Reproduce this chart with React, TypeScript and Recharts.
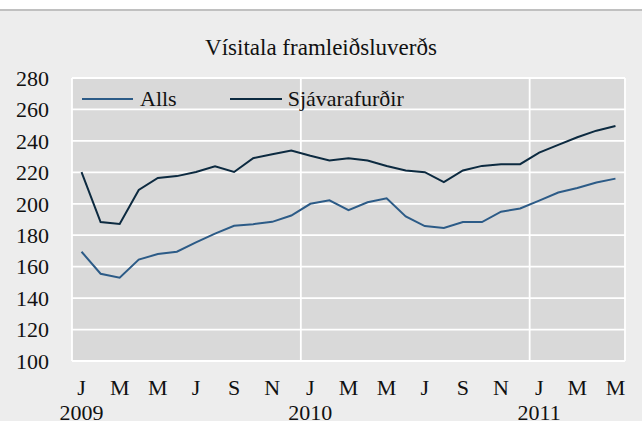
import React from 'react';
import { LineChart, Line, XAxis, YAxis, CartesianGrid } from 'recharts';

const categories = [
  '2009-01','2009-02','2009-03','2009-04','2009-05','2009-06','2009-07','2009-08','2009-09','2009-10','2009-11','2009-12',
  '2010-01','2010-02','2010-03','2010-04','2010-05','2010-06','2010-07','2010-08','2010-09','2010-10','2010-11','2010-12',
  '2011-01','2011-02','2011-03','2011-04','2011-05',
];
const alls = [169.5, 155.5, 153, 164.5, 168, 169.5, 175.5, 181, 186, 187, 188.5, 192.5, 200, 202.2, 196, 201, 203.5, 192, 185.8, 184.6, 188.4, 188.4, 195, 197, 202, 207.2, 210, 213.5, 216];
const sjavarafurdir = [220.2, 188.4, 187.2, 208.8, 216.4, 217.6, 220.2, 223.8, 220.2, 229, 231.5, 233.9, 230.5, 227.5, 229, 227.5, 224, 221.2, 220.1, 213.8, 221.2, 224.1, 225.2, 225.2, 232.6, 237.5, 242.3, 246.5, 249.5];
const monthLetters = ['J','F','M','A','M','J','J','A','S','O','N','D'];
const yTicks = [100, 120, 140, 160, 180, 200, 220, 240, 260, 280];
const seriesNames = { alls: 'Alls', sjav: 'Sjávarafurðir' };
const title = 'Vísitala framleiðsluverðs';

const data = categories.map((c, i) => ({ month: c, alls: alls[i], sjav: sjavarafurdir[i] }));

const FONT = '"Liberation Serif", "Times New Roman", serif';
const BLUE = '#2c5b87';
const NAVY = '#0c2a40';

const MonthTick = (props: any) => {
  const { x, y, payload } = props;
  const [yr, mo] = String(payload.value).split('-');
  const m = parseInt(mo, 10);
  return (
    <g>
      <text x={x} y={y + 34} textAnchor="middle" fontFamily={FONT} fontSize={22} fill="#111">
        {monthLetters[m - 1]}
      </text>
      {m === 1 ? (
        <text x={x} y={y + 59} textAnchor="middle" fontFamily={FONT} fontSize={22} fill="#111">
          {yr}
        </text>
      ) : null}
    </g>
  );
};

const vGen = ({ offset }: any) => {
  const n = categories.length;
  return [
    offset.left,
    offset.left + (offset.width * 12) / n,
    offset.left + (offset.width * 24) / n,
    offset.left + offset.width,
  ];
};

export default function App() {
  return (
    <div style={{ position: 'fixed', left: 0, top: 0, width: 642, height: 421, background: '#fff', overflow: 'hidden' }}>
      <div style={{ position: 'absolute', left: 0, top: 9, width: 642, height: 412, background: '#ededed', borderTop: '2px solid #c0c0c0', boxSizing: 'border-box' }} />
      <div style={{ position: 'absolute', left: 0, top: 0 }}>
        <LineChart width={642} height={421} data={data} margin={{ top: 78, right: 17, bottom: 0, left: 22 }}>
          <CartesianGrid fill="#d9d9d9" stroke="#ffffff" strokeWidth={1.8} horizontal={true} vertical={true} verticalCoordinatesGenerator={vGen} />
          <XAxis dataKey="month" scale="band" interval={1} axisLine={false} tickLine={false} tickSize={0} tickMargin={0} height={60} tick={<MonthTick />} />
          <YAxis domain={[100, 280]} ticks={yTicks} width={50} axisLine={false} tickLine={false} tickSize={0} tickMargin={23}
            tick={{ fontFamily: FONT, fontSize: 22, fill: '#111' }} interval={0} />
          <Line type="linear" dataKey="alls" name={seriesNames.alls} stroke={BLUE} strokeWidth={2} dot={false} isAnimationActive={false} />
          <Line type="linear" dataKey="sjav" name={seriesNames.sjav} stroke={NAVY} strokeWidth={2} dot={false} isAnimationActive={false} />
        </LineChart>
      </div>
      <div style={{ position: 'absolute', left: 0, width: 642, top: 35, textAlign: 'center', fontFamily: FONT, fontSize: 23, color: '#111', lineHeight: '26px' }}>
        {title}
      </div>
      <div style={{ position: 'absolute', left: 82, top: 87, display: 'flex', alignItems: 'center', fontFamily: FONT, fontSize: 22, color: '#111', lineHeight: '24px' }}>
        <span style={{ display: 'inline-block', width: 51, height: 2, background: BLUE, marginRight: 7 }} />
        <span>{seriesNames.alls}</span>
        <span style={{ display: 'inline-block', width: 52, height: 2, background: NAVY, marginLeft: 53, marginRight: 6 }} />
        <span>{seriesNames.sjav}</span>
      </div>
    </div>
  );
}
